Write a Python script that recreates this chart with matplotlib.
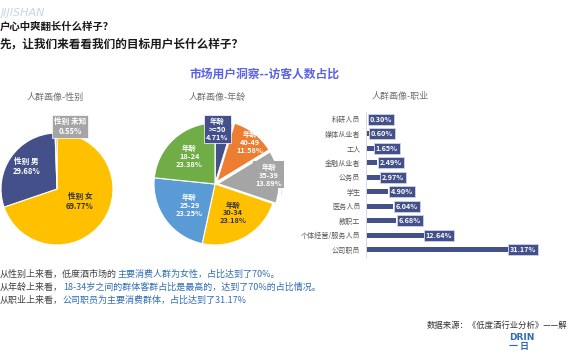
import matplotlib
matplotlib.use("Agg")
import matplotlib.pyplot as plt

plt.rcParams['font.family'] = ['Noto Sans CJK SC', 'DejaVu Sans']

# ---- data ----
gender_labels = ['性别 女', '性别 男', '性别 未知']
gender_values = [69.77, 29.68, 0.55]

age_labels = ['>=50', '40-49', '35-39', '30-34', '25-29', '18-24']
age_values = [4.71, 11.58, 13.89, 23.18, 23.25, 23.38]

job_labels = ['科研人员', '媒体从业者', '工人', '金融从业者', '公务员', '学生',
              '医务人员', '教职工', '个体经营/服务人员', '公司职员']
job_values = [0.30, 0.60, 1.65, 2.49, 2.97, 4.90, 6.04, 6.68, 12.64, 31.17]

W, H = 570, 360
fig = plt.figure(figsize=(W / 100, H / 100), dpi=100)
bg = fig.add_axes([0, 0, 1, 1])
bg.set_xlim(0, W)
bg.set_ylim(H, 0)
bg.axis('off')

NAVY = '#44508a'
ORANGE = '#ED7D31'
GRAY = '#A5A5A5'
YELLOW = '#FFC000'
BLUE = '#5B9BD5'
GREEN = '#70AD47'
TXTBLUE = '#2f6db3'


def px_axes(x0, y0, x1, y1):
    return fig.add_axes([x0 / W, 1 - y1 / H, (x1 - x0) / W, (y1 - y0) / H])


# ---- header text ----
bg.text(1, 13, 'JIJISHAN', color='#c5d5ec', fontsize=8, style='italic',
        family='DejaVu Sans', va='center', ha='left')
bg.text(0, 27, '户心中爽翻长什么样子？', fontsize=7.5, fontweight='bold',
        color='#1a1a1a', va='center', ha='left')
bg.text(0, 44, '先，让我们来看看我们的目标用户长什么样子？', fontsize=8.4,
        fontweight='bold', color='#1a1a1a', va='center', ha='left')
bg.text(190, 74, '市场用户洞察--访客人数占比', fontsize=8.5, fontweight='bold',
        color='#5a63e6', va='center', ha='left')

sub_kw = dict(fontsize=6.5, color='#707070', va='center', ha='center')
bg.text(55, 97, '人群画像-性别', **sub_kw)
bg.text(217, 97, '人群画像-年龄', **sub_kw)
bg.text(400, 97, '人群画像-职业', **sub_kw)

# faint separator
bg.plot([281, 281], [162, 194], color='#e3e3e3', lw=0.6)

# ---- gender pie ----
cx, cy, r = 57, 189, 56
ax1 = px_axes(cx - r * 1.25, cy - r * 1.25, cx + r * 1.25, cy + r * 1.25)
ax1.pie(gender_values, colors=[YELLOW, NAVY, GRAY], startangle=90,
        counterclock=False, radius=1,
        wedgeprops=dict(edgecolor='white', linewidth=0.8))
ax1.set_xlim(-1.25, 1.25)
ax1.set_ylim(-1.25, 1.25)
ax1.set_aspect('equal')
lab_kw = dict(fontsize=5.5, fontweight='bold', ha='center', va='center',
              linespacing=1.15)
ax1.text(0.41, -0.23, f'{gender_labels[0]}\n{gender_values[0]:.2f}%',
         color='#333333', **lab_kw)
ax1.text(-0.54, 0.41, f'{gender_labels[1]}\n{gender_values[1]:.2f}%',
         color='white', **lab_kw)
ax1.text(0.23, 1.12, f'{gender_labels[2]}\n{gender_values[2]:.2f}%',
         color='white', clip_on=False,
         bbox=dict(boxstyle='square,pad=0.25', fc=GRAY, ec='white', lw=0.5),
         **lab_kw)

# ---- age pie ----
cx, cy, r = 215, 184, 61
ax2 = px_axes(cx - r * 1.25, cy - r * 1.25, cx + r * 1.25, cy + r * 1.25)
ax2.pie(age_values, colors=[NAVY, ORANGE, GRAY, YELLOW, BLUE, GREEN],
        startangle=90, counterclock=False, radius=1,
        explode=[0.02, 0.05, 0.05, 0.0, 0.0, 0.0],
        wedgeprops=dict(edgecolor='white', linewidth=0.8))
ax2.set_xlim(-1.25, 1.25)
ax2.set_ylim(-1.25, 1.25)
ax2.set_aspect('equal')
age_pos = [(0.04, 0.90), (0.57, 0.68), (0.88, 0.15), (0.30, -0.47),
           (-0.42, -0.35), (-0.42, 0.45)]
age_txtc = ['white', 'white', 'white', '#333333', 'white', 'white']
age_kw = dict(lab_kw)
age_kw['fontsize'] = 5.3
for i, (lab, val) in enumerate(zip(age_labels, age_values)):
    box = None
    if i == 0:
        box = dict(boxstyle='square,pad=0.25', fc=NAVY, ec='white', lw=0.5)
    elif i == 2:
        box = dict(boxstyle='square,pad=0.25', fc=GRAY, ec='none')
    ax2.text(age_pos[i][0], age_pos[i][1], f'年龄\n{lab}\n{val:.2f}%',
             color=age_txtc[i], bbox=box, clip_on=False, zorder=5, **age_kw)

# ---- occupation bars ----
ax3 = px_axes(366, 112, 548, 257)
ypos = list(range(len(job_labels)))
ax3.barh(ypos, job_values, height=0.36, color=NAVY)
ax3.set_xlim(0, 40)
ax3.set_ylim(len(job_labels) - 0.5, -0.5)
ax3.set_yticks(ypos)
ax3.set_yticklabels(job_labels, fontsize=5.1, color='#595959')
ax3.tick_params(axis='y', length=0, pad=4)
ax3.set_xticks([])
for s in ['top', 'right', 'bottom']:
    ax3.spines[s].set_visible(False)
ax3.spines['left'].set_color('#d9d9d9')
ax3.spines['left'].set_linewidth(0.7)
ax3.set_facecolor('none')
for y, v in zip(ypos, job_values):
    ax3.text(v + 0.5, y, f'{v:.2f}%', fontsize=5.2, fontweight='bold',
             color='white', ha='left', va='center', clip_on=False,
             bbox=dict(boxstyle='square,pad=0.25', fc=NAVY, ec='#d0d4e6', lw=0.6))

# ---- bottom notes ----
notes = [
    ('从性别上来看，低度酒市场的', '主要消费人群为女性，占比达到了70%。', 274),
    ('从年龄上来看，', '18-34岁之间的群体客群占比是最高的，达到了70%的占比情况。', 287),
    ('从职业上来看，', '公司职员为主要消费群体，占比达到了31.17%', 300),
]
for gray_part, blue_part, y in notes:
    t = bg.text(0, y, gray_part, fontsize=6.5, color='#404040',
                ha='left', va='center')
    bg.annotate(blue_part, xy=(1, 0.5), xycoords=t, fontsize=6.5,
                color=TXTBLUE, ha='left', va='center')

# ---- source / footer ----
bg.text(427, 325, '数据来源：《低度酒行业分析》——解', fontsize=6,
        color='#333333', ha='left', va='center')
bg.text(509, 337, 'DRIN', fontsize=6.5, fontweight='bold', color=TXTBLUE,
        family='DejaVu Sans', ha='left', va='center')
bg.text(509, 347, '一 日', fontsize=6.5, fontweight='bold', color=TXTBLUE,
        ha='left', va='center')

fig.savefig('out.png', dpi=100)
